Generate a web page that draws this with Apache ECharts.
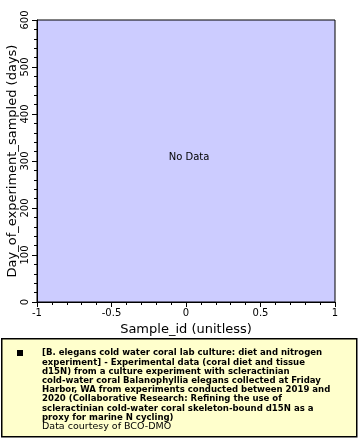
<!DOCTYPE html>
<html><head><meta charset="utf-8">
<script src="https://cdn.jsdelivr.net/npm/echarts@6/dist/echarts.min.js"></script>
<style>html,body{margin:0;padding:0;background:#fff}#c{width:360px;height:440px}</style>
</head><body><div id="c"></div>
<script>
// Data (the reference shows "No Data": no points)
var sampleId = [];
var dayOfExperiment = [];
var xTicks = [-1, -0.5, 0, 0.5, 1];
var yTicks = [0, 100, 200, 300, 400, 500, 600];
var legendLines = [
  '[B. elegans cold water coral lab culture: diet and nitrogen',
  'experiment] - Experimental data (coral diet and tissue',
  'd15N) from a culture experiment with scleractinian',
  'cold-water coral Balanophyllia elegans collected at Friday',
  'Harbor, WA from experiments conducted between 2019 and',
  '2020 (Collaborative Research: Refining the use of',
  'scleractinian cold-water coral skeleton-bound d15N as a',
  'proxy for marine N cycling)'
];
var creditText = 'Data courtesy of BCO-DMO';
var noDataText = 'No Data';

var chart = echarts.init(document.getElementById('c'), null, {renderer: 'canvas'});
var font = 'DejaVu Sans';
var pts = sampleId.map(function (x, i) { return [x, dayOfExperiment[i]]; });

var graphics = [
  {type: 'rect', left: 1, top: 338, shape: {width: 355, height: 98},
   style: {fill: '#ffffcc', stroke: '#000', lineWidth: 1.5}, z: 1},
  {type: 'rect', shape: {x: 17, y: 350, width: 6, height: 6}, style: {fill: '#000'}, z: 2},
  {type: 'text', x: 189, y: 157, style: {text: noDataText, font: '10px ' + font, fill: '#000', textAlign: 'center', textVerticalAlign: 'middle'}, z: 5}
];
legendLines.forEach(function (t, i) {
  graphics.push({type: 'text', x: 42, y: 353 + i * 9.2,
    style: {text: t, font: 'bold 9.5px "DejaVu Sans Condensed"', fill: '#000', textVerticalAlign: 'middle'}, z: 2});
});
graphics.push({type: 'text', x: 42, y: 353 + 8 * 9.2,
  style: {text: creditText, font: '9.5px "DejaVu Sans"', fill: '#000', textVerticalAlign: 'middle'}, z: 2});

chart.setOption({
  animation: false,
  backgroundColor: '#fff',
  grid: {left: 37, top: 20, width: 298, height: 282, show: true, containLabel: false,
         outerBoundsMode: 'none',
         backgroundColor: '#ccccff', borderColor: '#000', borderWidth: 1},
  xAxis: {
    type: 'value', min: xTicks[0], max: xTicks[xTicks.length - 1], interval: 0.5,
    name: 'Sample_id (unitless)', nameLocation: 'middle', nameGap: 21, nameMoveOverlap: false,
    nameTextStyle: {fontFamily: font, fontSize: 13, color: '#000'},
    axisLine: {show: true, onZero: false, lineStyle: {color: '#000', width: 1}},
    axisTick: {show: true, inside: false, length: 5, lineStyle: {color: '#000'}},
    minorTick: {show: true, splitNumber: 5, length: 3, lineStyle: {color: '#000'}},
    splitLine: {show: false},
    axisLabel: {fontFamily: font, fontSize: 10, color: '#000', margin: 6,
      formatter: function (v) { return String(v); }}
  },
  yAxis: {
    type: 'value', min: yTicks[0], max: yTicks[yTicks.length - 1], interval: 100,
    name: 'Day_of_experiment_sampled (days)', nameLocation: 'middle', nameGap: 18, nameMoveOverlap: false,
    nameTextStyle: {fontFamily: font, fontSize: 13, color: '#000'},
    axisLine: {show: true, onZero: false, lineStyle: {color: '#000', width: 1}},
    axisTick: {show: true, inside: false, length: 5, lineStyle: {color: '#000'}},
    minorTick: {show: true, splitNumber: 5, length: 3, lineStyle: {color: '#000'}},
    splitLine: {show: false},
    axisLabel: {fontFamily: font, fontSize: 10, color: '#000', margin: 7, rotate: 90}
  },
  series: [{type: 'scatter', data: pts, symbolSize: 4, itemStyle: {color: '#000'}}],
  graphic: graphics
});
</script>
</body></html>
